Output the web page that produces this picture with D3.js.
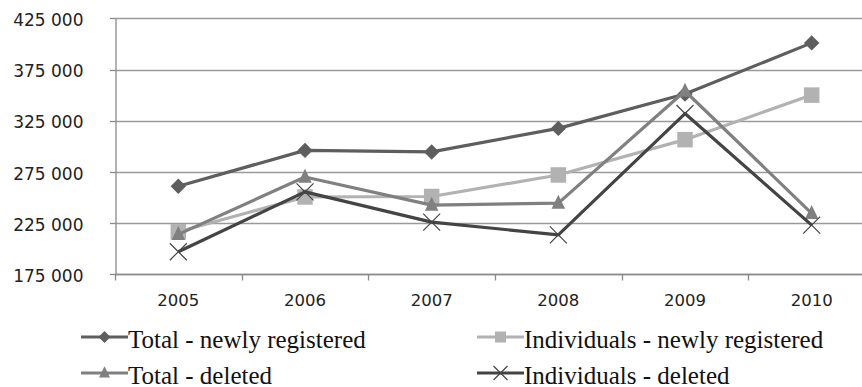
<!DOCTYPE html>
<html>
<head>
<meta charset="utf-8">
<script src="https://cdn.jsdelivr.net/npm/d3@7"></script>
<style>
  html, body { margin: 0; padding: 0; background: #fff; }
  svg { display: block; }
</style>
</head>
<body>
<svg id="chart" width="862" height="387"></svg>
<script>
// Registered and deleted entities, 2005-2010
const years = ["2005", "2006", "2007", "2008", "2009", "2010"];
const totalNew = [261000, 296000, 294500, 317500, 351000, 401000];
const individualsNew = [216500, 250500, 251000, 272000, 306500, 350000];
const totalDeleted = [214000, 270000, 242500, 244500, 354000, 234500];
const individualsDeleted = [197000, 255500, 226000, 213500, 332000, 223000];
const yTicks = [175000, 225000, 275000, 325000, 375000, 425000];
const seriesNames = [
  "Total - newly registered",
  "Individuals - newly registered",
  "Total - deleted",
  "Individuals - deleted"
];

const series = [
  { name: seriesNames[0], values: totalNew, color: "#5e5e5e", marker: "diamond", size: 14 },
  { name: seriesNames[1], values: individualsNew, color: "#b2b2b2", marker: "square", size: 15.5 },
  { name: seriesNames[2], values: totalDeleted, color: "#808080", marker: "triangle", size: 13.5 },
  { name: seriesNames[3], values: individualsDeleted, color: "#444444", marker: "cross", size: 17 }
];

const svg = d3.select("#chart");
const plot = { left: 115, top: 18.3, bottom: 274.3, width: 760 };

const x = d3.scaleBand().domain(years).range([plot.left, plot.left + plot.width]);
const y = d3.scaleLinear().domain([175000, 425000]).range([plot.bottom, plot.top]);

const fmt = v => d3.format(",")(v).replace(/,/g, " ");

// horizontal gridlines
svg.append("g")
  .selectAll("line")
  .data(yTicks)
  .join("line")
  .attr("x1", plot.left)
  .attr("x2", 862)
  .attr("y1", d => Math.round(y(d)) + 0.5)
  .attr("y2", d => Math.round(y(d)) + 0.5)
  .attr("stroke", "#9a9a9a")
  .attr("stroke-width", 1.3);

// y axis
const yAxis = svg.append("g")
  .attr("transform", `translate(${plot.left + 0.5},0)`)
  .call(d3.axisLeft(y).tickValues(yTicks).tickFormat(fmt).tickSize(0).tickPadding(32));
yAxis.select(".domain").attr("stroke", "#8a8a8a").attr("stroke-width", 1.3);
yAxis.selectAll("text")
  .attr("font-family", "DejaVu Sans, Verdana, sans-serif")
  .attr("font-size", 17)
  .attr("fill", "#222")
  .attr("dy", "0.42em");
yAxis.selectAll(".tick line").remove();
// short stubs left of the axis at each gridline
svg.append("g")
  .selectAll("line")
  .data(yTicks)
  .join("line")
  .attr("x1", plot.left - 5)
  .attr("x2", plot.left)
  .attr("y1", d => Math.round(y(d)) + 0.5)
  .attr("y2", d => Math.round(y(d)) + 0.5)
  .attr("stroke", "#8a8a8a")
  .attr("stroke-width", 1.3);

// x axis: ticks on category boundaries
const xAxisG = svg.append("g")
  .attr("transform", `translate(0,${Math.round(plot.bottom) + 0.5})`);
xAxisG.append("line")
  .attr("x1", plot.left).attr("x2", 862)
  .attr("stroke", "#8a8a8a").attr("stroke-width", 1.3);
const boundaries = years.map(d => x(d));
xAxisG.selectAll("line.tick")
  .data(boundaries)
  .join("line")
  .attr("class", "tick")
  .attr("x1", d => Math.round(d) + 0.5)
  .attr("x2", d => Math.round(d) + 0.5)
  .attr("y1", 0).attr("y2", 6)
  .attr("stroke", "#8a8a8a").attr("stroke-width", 1.3);
xAxisG.selectAll("text")
  .data(years)
  .join("text")
  .attr("x", d => x(d) + x.bandwidth() / 2)
  .attr("y", 31)
  .attr("text-anchor", "middle")
  .attr("font-family", "DejaVu Sans, Verdana, sans-serif")
  .attr("font-size", 16.5)
  .attr("fill", "#222")
  .text(d => d);

// marker shapes
function drawMarker(g, type, color, size) {
  const s = size;
  if (type === "diamond") {
    g.append("path").attr("d", `M0,${-s * 0.55}L${s * 0.55},0L0,${s * 0.55}L${-s * 0.55},0Z`).attr("fill", color);
  } else if (type === "square") {
    g.append("rect").attr("x", -s / 2).attr("y", -s / 2).attr("width", s).attr("height", s).attr("fill", color);
  } else if (type === "triangle") {
    g.append("path").attr("d", `M0,${-s * 0.62}L${s * 0.5},${s * 0.42}L${-s * 0.5},${s * 0.42}Z`).attr("fill", color);
  } else if (type === "cross") {
    const h = s * 0.5;
    g.append("path").attr("d", `M${-h},${-h}L${h},${h}M${h},${-h}L${-h},${h}`)
      .attr("stroke", color).attr("stroke-width", 1.2).attr("fill", "none");
  }
}

const line = d3.line()
  .x((d, i) => x(years[i]) + x.bandwidth() / 2)
  .y(d => y(d));

series.forEach(s => {
  const g = svg.append("g");
  g.append("path")
    .datum(s.values)
    .attr("d", line)
    .attr("fill", "none")
    .attr("stroke", s.color)
    .attr("stroke-width", 3.2)
    .attr("stroke-linejoin", "round");
  s.values.forEach((v, i) => {
    const m = g.append("g")
      .attr("transform", `translate(${x(years[i]) + x.bandwidth() / 2},${y(v)})`);
    drawMarker(m, s.marker, s.color, s.size);
  });
});

// legend, two columns by two rows
const legendPos = [
  { x: 81, y: 337 },
  { x: 477, y: 337 },
  { x: 81, y: 373 },
  { x: 477, y: 373 }
];
series.forEach((s, i) => {
  const p = legendPos[i];
  const g = svg.append("g").attr("transform", `translate(${p.x},${p.y})`);
  g.append("line").attr("x1", 0).attr("x2", 47)
    .attr("stroke", s.color).attr("stroke-width", 3.2);
  const m = g.append("g").attr("transform", "translate(23.5,0)");
  drawMarker(m, s.marker, s.color, s.marker === "cross" ? 14 : 11);
  g.append("text")
    .attr("x", 47)
    .attr("y", 10.5)
    .attr("font-family", "Liberation Serif, Times New Roman, serif")
    .attr("font-size", 25)
    .attr("fill", "#111")
    .text(s.name);
});
</script>
</body>
</html>
